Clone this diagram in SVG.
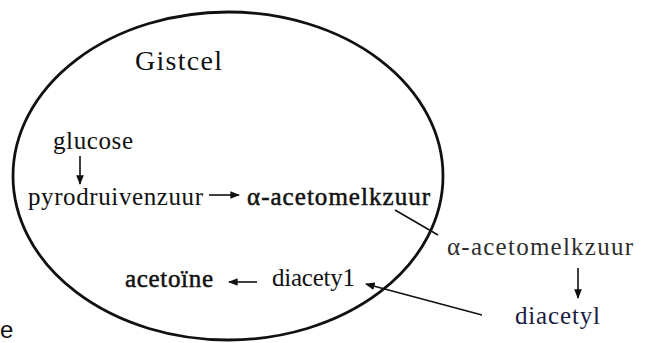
<svg xmlns="http://www.w3.org/2000/svg" width="650" height="343" viewBox="0 0 650 343">
<style>
.b{stroke:#111;stroke-width:0.5}
.c{stroke:#111;stroke-width:1.6;fill:none}
</style>
<defs>
<marker id="ah" viewBox="0 0 10 8" refX="9" refY="4" markerWidth="6" markerHeight="4.8" orient="auto" markerUnits="strokeWidth">
<path d="M0,0 L10,4 L0,8 Z" fill="#111"/>
</marker>
</defs>
<rect width="650" height="343" fill="#fff"/>
<g font-family="Liberation Serif, DejaVu Serif, serif" font-size="25" fill="#111">
<g id="cell">
<ellipse cx="228" cy="176" rx="215" ry="164" fill="none" stroke="#111" stroke-width="2.8"/>
<text x="135" y="70" textLength="87" font-size="28">Gistcel</text>
</g>
<g id="glucose"><text x="53" y="149" textLength="80">glucose</text></g>
<g id="pyro"><text x="28" y="205" textLength="175">pyrodruivenzuur</text></g>
<g id="aceto-in"><text class="b" x="247" y="205" textLength="183">α-acetomelkzuur</text></g>
<g id="acetoine"><text class="b" x="125" y="287" textLength="88">acetoïne</text></g>
<g id="diacetyl-in"><text x="272" y="286" textLength="83">diacety1</text></g>
<g id="aceto-out"><text x="447" y="255" textLength="186" fill="#2e2e2e">α-acetomelkzuur</text></g>
<g id="diacetyl-out"><text x="515" y="324" textLength="85" fill="#1c1c40">diacetyl</text></g>
</g>
<g id="stray"><text x="0" y="338" font-family="Liberation Sans, Arial, sans-serif" font-size="24" fill="#111">e</text></g>
<g id="connectors">
<line class="c" x1="80" y1="156" x2="80" y2="184" marker-end="url(#ah)"/>
<line class="c" x1="209" y1="195" x2="239" y2="195" marker-end="url(#ah)"/>
<line class="c" x1="257" y1="282" x2="229" y2="282" marker-end="url(#ah)"/>
<line class="c" x1="578" y1="268" x2="578" y2="298" marker-end="url(#ah)"/>
<line class="c" x1="482" y1="315" x2="366" y2="284" marker-end="url(#ah)"/>
<line class="c" x1="395" y1="210" x2="438" y2="235"/>
</g>
</svg>
